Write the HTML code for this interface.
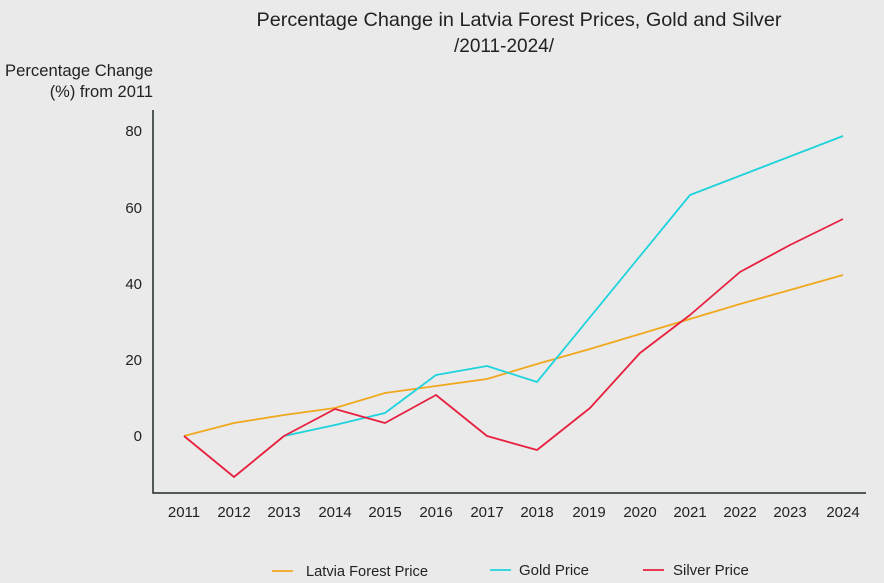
<!DOCTYPE html>
<html><head><style>
body{margin:0;background:#e9eae9;}
svg{display:block;font-family:"Liberation Sans",sans-serif;}
</style></head><body>
<svg width="884" height="583" viewBox="0 0 884 583">
<rect width="884" height="583" fill="#e9eae9"/>
<text x="519" y="26" text-anchor="middle" font-size="19.5" fill="#222" textLength="525" lengthAdjust="spacingAndGlyphs">Percentage Change in Latvia Forest Prices, Gold and Silver</text>
<text x="504" y="52" text-anchor="middle" font-size="19" fill="#222">/2011-2024/</text>
<text x="153" y="76" text-anchor="end" font-size="16.5" fill="#222" textLength="148" lengthAdjust="spacingAndGlyphs">Percentage Change</text>
<text x="153" y="97" text-anchor="end" font-size="16.5" fill="#222">(%) from 2011</text>
<g font-size="15" fill="#222" text-anchor="end">
<text x="142" y="136">80</text><text x="142" y="213">60</text><text x="142" y="289">40</text><text x="142" y="365">20</text><text x="142" y="441">0</text>
</g>
<g font-size="15" fill="#222" text-anchor="middle">
<text x="184" y="517">2011</text><text x="234" y="517">2012</text><text x="284" y="517">2013</text><text x="335" y="517">2014</text><text x="385" y="517">2015</text><text x="436" y="517">2016</text><text x="487" y="517">2017</text><text x="537" y="517">2018</text><text x="589" y="517">2019</text><text x="640" y="517">2020</text><text x="690" y="517">2021</text><text x="740" y="517">2022</text><text x="790" y="517">2023</text><text x="843" y="517">2024</text>
</g>
<path d="M153 110V493H866" fill="none" stroke="#1f2a22" stroke-width="1.5"/>
<g fill="none" stroke-width="1.8" stroke-linejoin="round">
<polyline stroke="#f0a81e" points="184,436 234,423 284,415 335,408 385,393 436,386 487,379 537,364 590,349 640,334 690,319 740,304 790,290 843,275"/>
<polyline stroke="#1fd3dd" points="284,436 335,425 385,413 436,375 487,366 537,382 690,195 843,136"/>
<polyline stroke="#e8203f" points="184,436 234,477 284,436 335,409 385,423 436,395 487,436 537,450 590,408 640,353 690,315 740,272 790,245 843,219"/>
</g>
<line x1="272" y1="571" x2="293" y2="571" stroke="#f0a81e" stroke-width="1.8"/>
<text x="306" y="576" font-size="15" fill="#222" textLength="122" lengthAdjust="spacingAndGlyphs">Latvia Forest Price</text>
<line x1="490" y1="570" x2="511" y2="570" stroke="#1fd3dd" stroke-width="1.8"/>
<text x="519" y="575" font-size="15" fill="#222">Gold Price</text>
<line x1="643" y1="570" x2="664" y2="570" stroke="#e8203f" stroke-width="1.8"/>
<text x="673" y="575" font-size="15" fill="#222">Silver Price</text>
</svg>
</body></html>
